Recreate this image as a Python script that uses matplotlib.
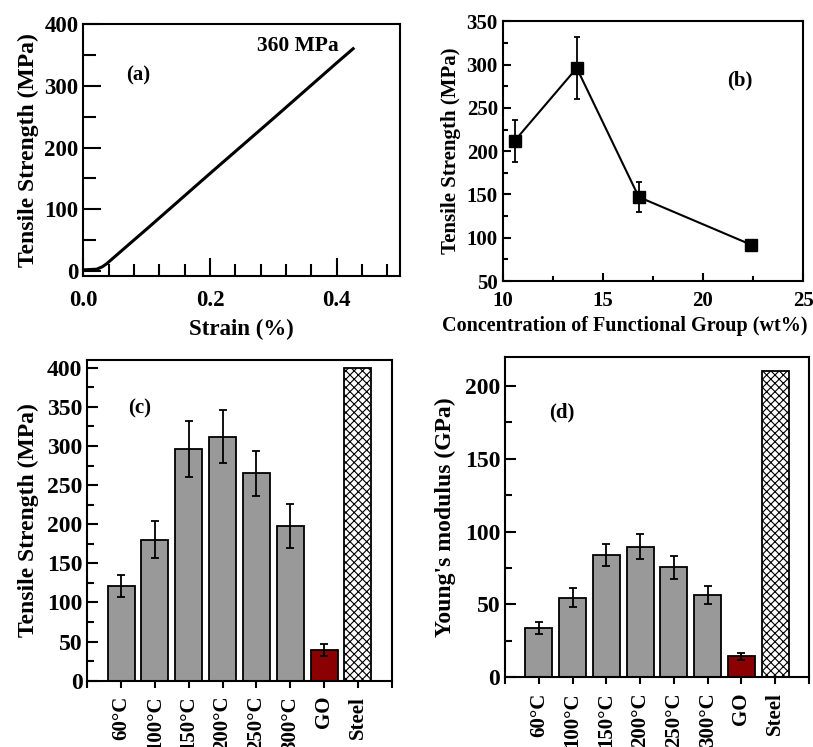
import matplotlib
matplotlib.use("Agg")
import matplotlib.pyplot as plt
import numpy as np

plt.rcParams["font.family"] = ["Liberation Serif", "DejaVu Serif"]
plt.rcParams["font.weight"] = "bold"
plt.rcParams["axes.labelweight"] = "bold"
plt.rcParams["axes.linewidth"] = 1.5
plt.rcParams["hatch.linewidth"] = 0.8

# (a) stress-strain curve
strain = [0.0, 0.021, 0.03, 0.037, 0.074, 0.1, 0.2, 0.3, 0.4, 0.426]
stress = [2, 3, 7, 12, 45, 68, 158, 247, 337, 360]

# (b) strength vs functional group concentration
conc = [10.6, 13.7, 16.8, 22.4]
conc_strength = [212, 296, 147, 92]
conc_err = [24, 36, 17, 3]

# (c), (d) annealing temperature series
categories = ["60°C", "100°C", "150°C", "200°C", "250°C", "300°C", "GO", "Steel"]
tensile = [121, 180, 296, 312, 265, 198, 39, 400]
tensile_err = [14, 23.5, 36, 34, 29, 28, 7.5, 0]
modulus = [34, 54.5, 84, 89.5, 75.5, 56.5, 14.4, 210]
modulus_err = [4, 6.5, 7.4, 8.5, 8, 6, 2.3, 0]

GRAY = "#999999"
GO_RED = "#8b0000"


def bar_panel(ax, values, errors, ylim, ylabel, tag, tag_xy):
    x = np.arange(1, len(values) + 1)
    colors = [GRAY] * 6 + [GO_RED, "white"]
    bars = ax.bar(x, values, width=0.8, color=colors, edgecolor="black", linewidth=1.3, zorder=2)
    bars[-1].set_hatch("xxxx")
    ax.errorbar(x[:-1], values[:-1], yerr=errors[:-1], fmt="none", ecolor="black",
                elinewidth=1.3, capsize=3, capthick=1.3, zorder=3)
    ax.set_xlim(0, 9)
    ax.set_ylim(*ylim)
    ax.set_xticks(range(0, 10))
    ax.set_xticklabels([""] + categories + [""], rotation=90, fontsize=15)
    ax.set_yticks(np.arange(0, ylim[1] + 1, 50))
    ax.set_yticks(np.arange(0, ylim[1] + 1, 25), minor=True)
    ax.tick_params(axis="y", which="major", direction="in", length=8, width=1.5, labelsize=17)
    ax.tick_params(axis="y", which="minor", direction="in", length=5, width=1.5)
    ax.tick_params(axis="x", which="major", direction="out", length=5, width=1.5, pad=6)
    ax.set_ylabel(ylabel, fontsize=17, labelpad=6)
    ax.text(tag_xy[0], tag_xy[1], tag, fontsize=15, ha="center", va="center")


fig = plt.figure(figsize=(8.13, 7.47), dpi=100)

# (a)
ax = fig.add_axes([0.1025, 0.6305, 0.3895, 0.3374])
ax.plot(strain, stress, color="black", linewidth=2.2)
ax.set_xlim(0, 0.5)
ax.set_ylim(-8, 400)
ax.set_xticks([0.0, 0.2, 0.4])
ax.set_xticks(np.arange(0, 0.5, 0.04), minor=True)
ax.set_xticklabels(["0.0", "0.2", "0.4"])
ax.set_yticks(np.arange(0, 401, 100))
ax.set_yticks(np.arange(0, 401, 50), minor=True)
ax.tick_params(which="major", direction="in", length=13, width=1.5, labelsize=16.5)
ax.tick_params(axis="x", which="major", pad=10)
ax.tick_params(which="minor", direction="in", length=9, width=1.5)
ax.set_xlabel("Strain (%)", fontsize=16.5, labelpad=6)
ax.set_ylabel("Tensile Strength (MPa)", fontsize=17)
ax.text(0.274, 364, "360 MPa", fontsize=15.5, ha="left", va="center")
ax.text(0.067, 316, "(a)", fontsize=15, ha="left", va="center")

# (b)
ax = fig.add_axes([0.6183, 0.6238, 0.3694, 0.3477])
ax.errorbar(conc, conc_strength, yerr=conc_err, color="black", linewidth=1.5, marker="s",
            markersize=8, elinewidth=1.3, capsize=2.5, capthick=1.3)
ax.set_xlim(10, 25)
ax.set_ylim(50, 350)
ax.set_xticks(np.arange(10, 26, 5))
ax.set_xticks(np.arange(10, 25.1, 2.5), minor=True)
ax.set_yticks(np.arange(50, 351, 50))
ax.set_yticks(np.arange(50, 351, 25), minor=True)
ax.tick_params(which="major", direction="in", length=6, width=1.5, labelsize=15)
ax.tick_params(axis="x", which="major", pad=7)
ax.tick_params(which="minor", direction="in", length=3.5, width=1.5)
ax.set_xlabel("Concentration of Functional Group (wt%)", fontsize=14.5, labelpad=8)
ax.xaxis.set_label_coords(0.405, -0.135)
ax.set_ylabel("Tensile Strength (MPa)", fontsize=15)
ax.text(21.85, 282, "(b)", fontsize=15, ha="center", va="center")

# (c)
ax = fig.add_axes([0.1074, 0.0888, 0.3744, 0.4293])
bar_panel(ax, tensile, tensile_err, (0, 410), "Tensile Strength (MPa)", "(c)", (1.56, 348))

# (d)
ax = fig.add_axes([0.6212, 0.0933, 0.3739, 0.4292])
bar_panel(ax, modulus, modulus_err, (0, 220), "Young's modulus (GPa)", "(d)", (1.68, 182))

fig.savefig("out.png", dpi=100)
